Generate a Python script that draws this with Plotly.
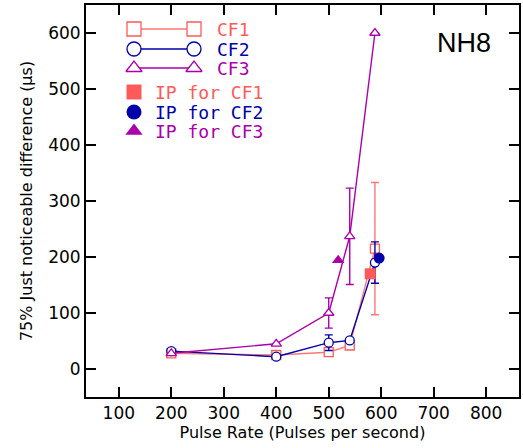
import plotly.graph_objects as go

# ---- data ----
rates = [200, 400, 500, 540, 588]
cf1 = [28, 25, 30, 42, 215]
cf1_err = [0, 0, 0, 0, 118]
cf2 = [32, 22, 47, 51, 190]
cf2_err = [0, 0, 14, 0, 37]
cf3 = [28, 45, 100, 237, 600]
cf3_err = [0, 0, 27, 86, 0]

ip_rate = [579, 596, 518]
ip_val = [170, 198, 194]

x_ticks = [100, 200, 300, 400, 500, 600, 700, 800]
y_ticks = [0, 100, 200, 300, 400, 500, 600]

C1 = "#FF5A5A"
C1L = "#FF7777"
C2 = "#0000AA"
C3 = "#AA00AA"

fig = go.Figure()

def series(x, y, err, color, lcolor, symbol):
    fig.add_trace(go.Scatter(
        x=x, y=y, mode="lines+markers",
        line=dict(color=lcolor, width=1.4),
        marker=dict(symbol=symbol, size=9, color="white",
                    line=dict(color=color, width=1.3)),
        error_y=dict(type="data", array=err, visible=True, color=lcolor,
                     thickness=1.4, width=4),
        showlegend=False))

series(rates, cf1, cf1_err, C1, C1L, "square")
series(rates, cf2, cf2_err, C2, C2, "circle")
series(rates, cf3, cf3_err, C3, C3, "triangle-up")

syms = ["square", "circle", "triangle-up"]
cols = [C1, C2, C3]
for i in range(3):
    fig.add_trace(go.Scatter(
        x=[ip_rate[i]], y=[ip_val[i]], mode="markers",
        marker=dict(symbol=syms[i], size=11, color=cols[i]),
        showlegend=False))

# ---- custom legend on overlay pixel axes ----
leg_rows_y = [29, 49, 68]
leg_fill_y = [92, 112, 131]
labels = ["CF1", "CF2", "CF3"]
lcols = [C1L, C2, C3]
for i in range(3):
    fig.add_trace(go.Scatter(
        x=[134, 194], y=[leg_rows_y[i]] * 2, mode="lines+markers",
        xaxis="x2", yaxis="y2",
        line=dict(color=lcols[i], width=1.4),
        marker=dict(symbol=syms[i], size=14, color="white",
                    line=dict(color=cols[i], width=1.3)),
        showlegend=False, hoverinfo="skip"))
    fig.add_annotation(x=215, y=leg_rows_y[i], xref="x2", yref="y2",
                       text=labels[i], showarrow=False, xanchor="left",
                       font=dict(family="DejaVu Sans Mono", size=18, color=cols[i]))
    fig.add_trace(go.Scatter(
        x=[134], y=[leg_fill_y[i]], mode="markers",
        xaxis="x2", yaxis="y2",
        marker=dict(symbol=syms[i], size=15, color=cols[i]),
        showlegend=False, hoverinfo="skip"))
    fig.add_annotation(x=153, y=leg_fill_y[i], xref="x2", yref="y2",
                       text="IP for " + labels[i], showarrow=False, xanchor="left",
                       font=dict(family="DejaVu Sans Mono", size=18, color=cols[i]))

fig.add_annotation(x=464, y=43, xref="x2", yref="y2", text="NH8", showarrow=False,
                   font=dict(family="Liberation Sans", size=27, color="black"))

axis_common = dict(showline=True, linecolor="black", linewidth=2, mirror="allticks",
                   ticks="inside", ticklen=10, tickwidth=2, tickcolor="black",
                   showgrid=False, zeroline=False, automargin=False,
                   tickfont=dict(family="DejaVu Sans", size=17, color="black"))

fig.update_layout(
    width=523, height=448,
    margin=dict(l=86, r=4, t=5, b=51),
    paper_bgcolor="white", plot_bgcolor="white",
    xaxis=dict(range=[37.5, 862.5], tickvals=x_ticks,
               title=dict(text="Pulse Rate (Pulses per second)", standoff=4,
                          font=dict(family="DejaVu Sans", size=16, color="black")),
               **axis_common),
    yaxis=dict(range=[-50, 650], tickvals=y_ticks,
               title=dict(text="75% Just noticeable difference (μs)", standoff=12,
                          font=dict(family="DejaVu Sans", size=16, color="black")),
               **axis_common),
    xaxis2=dict(range=[86, 519], overlaying="x", visible=False, fixedrange=True),
    yaxis2=dict(range=[397, 5], overlaying="y", visible=False, fixedrange=True),
)

fig.write_html("out.html", config={"displayModeBar": False},
               post_script="document.body.style.margin='0px';")
